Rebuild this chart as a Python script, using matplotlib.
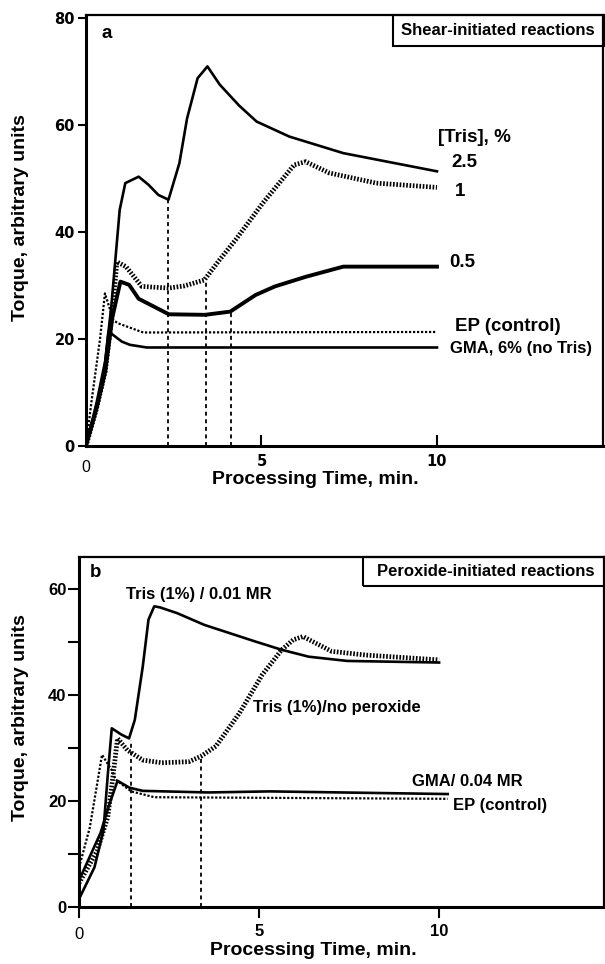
import matplotlib
matplotlib.use("Agg")
import matplotlib.pyplot as plt
from matplotlib.patches import Rectangle

plt.rcParams['font.family'] = ['Liberation Sans', 'DejaVu Sans']
plt.rcParams['font.weight'] = 'bold'

## panel a - shear-initiated reactions
t_a25 = [0, 0.3, 0.55, 0.72, 0.96, 1.12, 1.5, 1.78, 2.06, 2.35, 2.66, 2.88, 3.18, 3.46, 3.81, 4.36, 4.86, 5.79, 7.33, 10.0]
v_a25 = [0, 8, 16, 26, 44.1, 49.1, 50.3, 48.8, 46.9, 46.0, 52.8, 61.2, 68.7, 70.9, 67.5, 63.6, 60.6, 57.8, 54.7, 51.3]

t_a1 = [0, 0.3, 0.55, 0.75, 0.88, 1.14, 1.59, 2.36, 2.80, 3.37, 3.81, 4.26, 5.04, 5.93, 6.26, 6.93, 8.27, 10.0]
v_a1 = [0, 7, 14, 25, 34.4, 33.5, 29.8, 29.5, 29.9, 31.0, 34.8, 38.5, 45.4, 52.5, 53.1, 51.0, 49.1, 48.3]

t_a05 = [0, 0.3, 0.55, 0.75, 0.98, 1.23, 1.50, 2.36, 3.39, 4.11, 4.83, 5.38, 6.26, 7.33, 10.0]
v_a05 = [0, 7, 14, 24, 30.7, 30.1, 27.5, 24.6, 24.5, 25.1, 28.2, 29.8, 31.6, 33.5, 33.5]

t_aep = [0, 0.15, 0.4, 0.54, 0.78, 0.92, 1.63, 10.0]
v_aep = [0, 8, 20, 28.5, 23.5, 22.9, 21.2, 21.3]

t_agma = [0, 0.25, 0.49, 0.64, 1.02, 1.25, 1.73, 10.0]
v_agma = [0, 6, 12, 21.4, 19.5, 18.9, 18.4, 18.4]

drop_a_t = [2.35, 3.43, 4.12]
drop_a_v = [46.0, 31.2, 25.1]

## panel b - peroxide-initiated reactions
t_bmr = [0, 0.43, 0.68, 0.8, 0.91, 1.18, 1.39, 1.55, 1.77, 1.93, 2.09, 2.25, 2.73, 3.48, 4.88, 5.63, 6.38, 7.45, 10.0]
v_bmr = [1.5, 7.5, 14.5, 25, 33.7, 32.5, 31.8, 35.3, 45.3, 54.2, 56.7, 56.5, 55.4, 53.2, 50.1, 48.5, 47.2, 46.4, 46.1]

t_bnp = [0, 0.5, 0.8, 0.95, 1.07, 1.34, 1.77, 2.3, 3.05, 3.38, 3.8, 4.45, 5.09, 5.63, 5.95, 6.22, 6.59, 7.02, 7.98, 10.0]
v_bnp = [4.5, 10.5, 17, 25, 31.8, 29.6, 27.7, 27.2, 27.4, 28.4, 30.3, 36.5, 43.8, 48.5, 50.4, 51.0, 49.7, 48.2, 47.5, 46.6]

t_bgma = [0, 0.3, 0.6, 0.85, 1.07, 1.4, 1.77, 3.59, 5.3, 10.24]
v_bgma = [5, 9.5, 14, 19.5, 23.8, 22.5, 21.9, 21.6, 21.8, 21.3]

t_bep = [0, 0.3, 0.64, 0.91, 1.02, 1.45, 2.09, 10.24]
v_bep = [7.4, 15, 28.7, 25.8, 24, 21.8, 20.7, 20.4]

drop_b_t = [1.45, 3.4]
drop_b_v = [31.5, 28.4]

HATCH = (0, (0.35, 0.35))
W, H = 605, 964
TICKFONT_A = dict(family='DejaVu Sans', weight='bold', size=10.5)

fig = plt.figure(figsize=(W / 100, H / 100), dpi=100)

def px_axes(left, right, top, bottom):
    return fig.add_axes([left / W, (H - bottom) / H, (right - left) / W, (bottom - top) / H])

def style(ax):
    for s in ax.spines.values():
        s.set_linewidth(1.6)
    ax.spines['left'].set_linewidth(2.2)
    ax.spines['bottom'].set_linewidth(2.2)

## ---------------- panel a ----------------
ax = px_axes(86, 603, 15, 446)
style(ax)
ax.plot(t_a25, v_a25, color='k', lw=1.9)
ax.plot(t_a1, v_a1, color='k', lw=3.4, linestyle=HATCH)
ax.plot(t_a05, v_a05, color='k', lw=2.8)
ax.plot(t_aep, v_aep, color='k', lw=1.6, linestyle=(0, (1, 0.8)))
ax.plot(t_agma, v_agma, color='k', lw=1.9)
ax.vlines(drop_a_t, 0, drop_a_v, colors='k', lw=1.3, linestyles=(0, (2.2, 2)))
ax.set_xlim(0, 14.73)
ax.set_ylim(0, 80.5)
ax.set_xticks([5, 10])
ax.set_xticklabels(['5', '10'], fontdict=TICKFONT_A)
ax.tick_params(axis='x', direction='in', length=8, width=1.5, pad=6)
ax.set_yticks([0, 20, 40, 60, 80])
ax.set_yticklabels(['0', '20', '40', '60', '80'], fontdict=TICKFONT_A)
ax.tick_params(axis='y', direction='out', length=6, width=1.5, pad=2)
ax.text(0, -0.033, '0', transform=ax.get_xaxis_transform(), ha='center', va='top',
        fontsize=11.5, fontweight='normal')
ax.set_xlabel('Processing Time, min.', fontsize=14, fontweight='bold')
ax.xaxis.set_label_coords(0.443, -0.057)
ax.set_ylabel('Torque, arbitrary units', fontsize=14, fontweight='bold')
ax.yaxis.set_label_coords(-0.110, 0.53)
ax.text(0.43, 77.0, 'a', fontsize=13.5, va='center')
ax.add_patch(Rectangle((0.594, 0.928), 0.41, 0.072, transform=ax.transAxes,
                       fill=False, lw=1.5, clip_on=False))
ax.text(0.797, 0.963, 'Shear-initiated reactions', transform=ax.transAxes,
        ha='center', va='center', fontsize=12)
ax.text(10.03, 57.6, '[Tris], %', fontsize=13.5, va='center')
ax.text(10.4, 52.9, '2.5', fontsize=13.5, va='center')
ax.text(10.5, 47.5, '1', fontsize=13.5, va='center')
ax.text(10.36, 34.2, '0.5', fontsize=13.5, va='center')
ax.text(10.5, 22.3, 'EP (control)', fontsize=13.5, va='center')
ax.text(10.37, 18.3, 'GMA, 6% (no Tris)', fontsize=12, va='center')

## ---------------- panel b ----------------
bx = px_axes(79, 604, 557, 907)
style(bx)
bx.plot(t_bmr, v_bmr, color='k', lw=1.9)
bx.plot(t_bnp, v_bnp, color='k', lw=3.4, linestyle=HATCH)
bx.plot(t_bgma, v_bgma, color='k', lw=1.9)
bx.plot(t_bep, v_bep, color='k', lw=1.6, linestyle=(0, (1, 0.8)))
bx.vlines(drop_b_t, 0, drop_b_v, colors='k', lw=1.3, linestyles=(0, (2.2, 2)))
bx.set_xlim(0, 14.58)
bx.set_ylim(0, 66)
bx.set_xticks([0, 5, 10])
bx.set_xticklabels(['', '5', '10'], fontsize=12)
bx.tick_params(axis='x', direction='out', length=8, width=1.5, pad=4)
bx.text(0, -0.058, '0', transform=bx.get_xaxis_transform(), ha='center', va='top',
        fontsize=12, fontweight='normal')
bx.set_yticks([0, 10, 20, 30, 40, 50, 60])
bx.set_yticklabels(['0', '', '20', '', '40', '', '60'], fontsize=12)
bx.tick_params(axis='y', direction='out', length=8, width=1.5, pad=1)
bx.set_xlabel('Processing Time, min.', fontsize=14, fontweight='bold')
bx.xaxis.set_label_coords(0.446, -0.10)
bx.set_ylabel('Torque, arbitrary units', fontsize=14, fontweight='bold')
bx.yaxis.set_label_coords(-0.095, 0.54)
bx.text(0.3, 63.0, 'b', fontsize=13.5, va='center')
bx.add_patch(Rectangle((0.541, 0.917), 0.465, 0.083, transform=bx.transAxes,
                       fill=False, lw=1.5, clip_on=False))
bx.text(0.775, 0.958, 'Peroxide-initiated reactions', transform=bx.transAxes,
        ha='center', va='center', fontsize=12)
bx.text(1.31, 58.9, 'Tris (1%) / 0.01 MR', fontsize=12, va='center')
bx.text(4.83, 37.7, 'Tris (1%)/no peroxide', fontsize=12, va='center')
bx.text(9.25, 23.6, 'GMA/ 0.04 MR', fontsize=12, va='center')
bx.text(10.39, 19.2, 'EP (control)', fontsize=12, va='center')

fig.savefig('out.png', dpi=100)
